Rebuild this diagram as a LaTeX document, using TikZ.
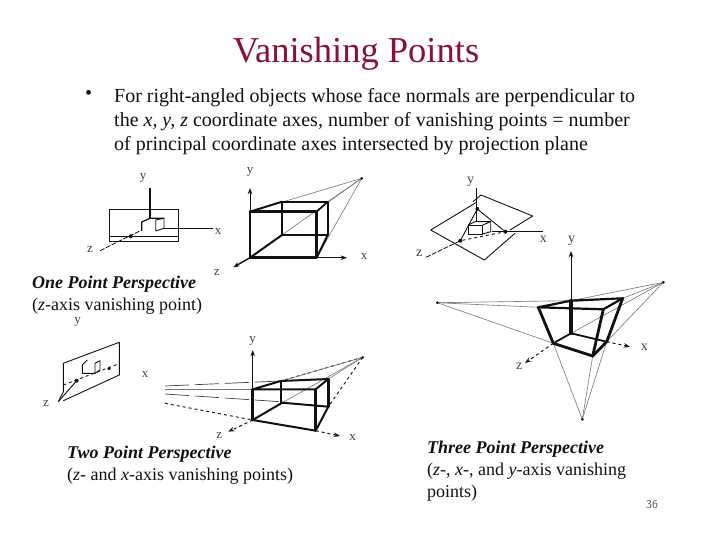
\documentclass[tikz,border=0pt]{standalone}
\usepackage{fontspec}
\setmainfont{Liberation Serif}
\usepackage{tikz}
\usetikzlibrary{arrows.meta,calc,positioning}
\definecolor{ink}{HTML}{111111}
\definecolor{maroon}{HTML}{8A1038}
\definecolor{ray}{HTML}{77776A}
\begin{document}
\begin{tikzpicture}[x=1pt,y=-1pt,
  heading/.style={anchor=base,text=maroon,font=\fontsize{36.5}{38}\selectfont,inner sep=0pt},
  bodytext/.style={anchor=base west,text=ink,font=\fontsize{20}{24}\selectfont,inner sep=0pt,align=left},
  caption/.style={anchor=north west,text=ink,font=\fontsize{18}{22}\selectfont,inner sep=0pt,align=left},
  axlabel/.style={text=ink!80,font=\fontsize{13}{13}\selectfont,inner sep=0pt},
  edge/.style={line width=2.8pt,color=ink,line cap=round,line join=round},
  thinedge/.style={line width=0.9pt,color=ink,line join=round},
  axis/.style={line width=1pt,color=ink},
  axarrow/.style={-{Stealth[length=2.2mm,width=1.6mm]},line width=1pt,color=ink},
  dashaxis/.style={line width=0.8pt,color=ink,dashed,dash pattern=on 5pt off 1.5pt},
  rayline/.style={line width=0.6pt,color=ray},
  farline/.style={line width=0.7pt,color=ink!80,dash pattern=on 24pt off 6pt},
  vpdot/.style={circle,fill=ink,inner sep=0pt,minimum size=4pt}]
  \useasboundingbox (0,0) rectangle (720,540);
  \fill[white] (0,0) rectangle (720,540);
  % title and bullet text
  \node[heading] (title) at (356,63) {Vanishing Points};
  \node[bodytext] (bullet) at (85,100) {•};
  \node[bodytext] (line1) at (114,102.5) {For right-angled objects whose face normals are perpendicular to};
  \node[bodytext] (line2) at (114,126.5) {the \textit{x, y, z} coordinate axes, number of vanishing points = number};
  \node[bodytext] (line3) at (114,150.5) {of principal coordinate axes intersected by projection plane};
  % captions
  \node[caption] (cap1) at (32,275.5) {\textbf{\textit{One Point Perspective}}\\(\textit{z}-axis vanishing point)};
  \node[caption] (cap2) at (67,446) {\textbf{\textit{Two Point Perspective}}\\(\textit{z}- and \textit{x}-axis vanishing points)};
  \node[caption] (cap3) at (427,441) {\textbf{\textit{Three Point Perspective}}\\(\textit{z}-, \textit{x}-, and \textit{y}-axis vanishing\\points)};
  \node[anchor=center,text=ink!70,font=\sffamily\fontsize{12}{12}\selectfont,inner sep=0pt] (page) at (652,505) {36};

  % one point, small sketch
  \draw[thinedge] (109.3,209.3) rectangle (178.3,241.7);
  \draw[thinedge] (109.3,236) -- (178.3,236);
  \draw[axis,line width=1.4pt] (150,188.3) -- (150,218.3);
  \draw[axis] (163.3,228.3) -- (213.3,228.3);
  \draw[dashaxis] (100,250.7) -- (141.7,230);
  \node[vpdot] (vpa) at (130.7,236.3) {};
  \draw[thinedge,line width=1.2pt] (141.7,231) -- (141.7,222) -- (150,218.3) -- (164,218.3);
  \draw[thinedge] (155.7,231) -- (155.7,220) -- (164,218.3) -- (164,228.3) -- (155.7,231);
  \node[axlabel] (ya) at (143,178) {y};
  \node[axlabel] (xa) at (218,232) {x};
  \node[axlabel] (za) at (90,250) {z};

  % one point, box
  \coordinate (vpb) at (361.7,178.3);
  \draw[rayline] (vpb) -- (250,211.7);
  \draw[rayline] (vpb) -- (327.7,201.7);
  \draw[rayline] (vpb) -- (282,235);
  \draw[rayline] (vpb) -- (316.7,257.7);
  \node[vpdot,minimum size=3pt] (vpbdot) at (vpb) {};
  \draw[axarrow] (250,211.7) -- (250,188);
  \draw[axarrow] (316.7,257.7) -- (347,257.7);
  \draw[axarrow,line width=1.4pt] (250,257.7) -- (233.3,267.3);
  \draw[edge,line width=1.7pt] (282,201.7) rectangle (327.7,235);
  \draw[edge,line width=1.7pt] (327.7,201.7) -- (316.7,211.7);
  \draw[edge] (250,211.7) rectangle (316.7,257.7);
  \draw[edge,line width=2pt] (250,211.7) -- (282,201.7);
  \draw[edge,line width=2pt] (250,257.7) -- (282,235);
  \draw[edge,line width=2pt] (316.7,257.7) -- (327.7,235);
  \node[axlabel] (yb) at (250,172) {y};
  \node[axlabel] (xb) at (364,257) {x};
  \node[axlabel] (zb) at (216.7,273) {z};

  % two point, small sketch
  \draw[thinedge] (63.3,392) -- (63.3,363.3) -- (119.3,342.3) -- (119.3,375) -- (63.3,400.7);
  \draw[thinedge,dashed] (63.3,385) -- (120,363.3);
  \draw[thinedge] (58.3,401.7) -- (63.3,392);
  \draw[thinedge] (58.3,401.7) -- (76.7,380.7);
  \node[vpdot] (vpc) at (76.7,380.7) {};
  \node[vpdot,minimum size=3.5pt] (vpd) at (109,368.7) {};
  \draw[thinedge] (82.3,373.3) -- (82.3,365) -- (87.3,360);
  \draw[thinedge] (82.3,373.3) -- (95,373.3) -- (95,363.3) -- (100,360.7) -- (100,370) -- (95,373.3);
  \node[axlabel] (yc) at (77.7,322) {y};
  \node[axlabel] (xc) at (145,375) {x};
  \node[axlabel] (zc) at (46,404) {z};

  % two point, box
  \coordinate (vpe) at (362.7,357.3);
  \draw[farline] (165,386) -- (280.7,381);
  \draw[rayline] (165,389.3) -- (252.7,389.3);
  \draw[farline] (165,394) -- (280,401.7);
  \draw[thinedge,dashed] (165,403.3) -- (252.7,420);
  \draw[thinedge,dashed] (vpe) -- (280.7,381);
  \draw[rayline] (vpe) -- (328.3,379);
  \draw[rayline] (vpe) -- (252.7,389.3);
  \draw[rayline] (vpe) -- (282.3,402.7);
  \draw[thinedge,dashed] (vpe) -- (328.3,406.7);
  \node[vpdot,minimum size=3pt] (vpedot) at (vpe) {};
  \draw[axarrow,line width=1.4pt] (252.7,389.3) -- (252.7,350);
  \draw[axarrow,dashed] (315.7,430.7) -- (340,436);
  \draw[axarrow,dashed] (252.7,420) -- (228.3,431.7);
  \draw[edge,line width=2pt] (252.7,389.3) -- (315.7,389.3) -- (328.3,379) -- (280.7,381) -- cycle;
  \draw[edge,line width=2pt] (280.7,381) -- (280.7,402.7);
  \draw[edge,line width=2pt] (282.3,402.7) -- (328.3,406.7);
  \draw[edge,line width=2pt] (252.7,420) -- (282.3,402.7);
  \draw[edge] (252.7,389.3) -- (252.7,420);
  \draw[edge] (315.7,389.3) -- (315.7,430.7);
  \draw[edge] (328.3,379) -- (328.3,406.7);
  \draw[edge,line width=2pt] (252.7,420) -- (315.7,430.7) -- (328.3,406.7);
  \node[axlabel] (ye) at (252.7,341) {y};
  \node[axlabel] (xe) at (352.7,438) {x};
  \node[axlabel] (ze) at (219.3,436) {z};

  % three point, small sketch
  \draw[thinedge] (477,202) -- (430.7,230) -- (484.3,260) -- (515,233.3);
  \draw[thinedge] (510,230) -- (532.7,216) -- (481,195);
  \draw[thinedge] (481,195) -- (473,201.7);
  \draw[axis] (476.7,188.3) -- (476.7,221.7);
  \draw[axis] (491.7,231.7) -- (542.7,231.7);
  \draw[dashaxis] (426,257.3) -- (460.3,240.7);
  \node[vpdot] (vpf) at (477.3,209) {};
  \node[vpdot] (vpg) at (505.3,231.7) {};
  \node[vpdot] (vph) at (460.3,240.7) {};
  \draw[thinedge] (vpf) -- (vph);
  \draw[thinedge] (vpf) -- (vpg);
  \draw[thinedge,dashed] (vph) -- (vpg);
  \draw[thinedge] (468.3,225) rectangle (482.7,234);
  \draw[thinedge] (468.3,225) -- (475,221.7) -- (490.7,221.7) -- (482.7,225);
  \draw[thinedge] (490.7,221.7) -- (490.7,231.7) -- (482.7,234);
  \node[axlabel,font=\fontsize{14}{14}\selectfont] (yf) at (470.7,182) {y};
  \node[axlabel,font=\fontsize{14}{14}\selectfont] (xf) at (543.3,239) {x};
  \node[axlabel,font=\fontsize{14}{14}\selectfont] (zf) at (419.3,253) {z};

  % three point, box
  \coordinate (vpi) at (437.3,302.7);
  \coordinate (vpj) at (663.3,282.3);
  \coordinate (vpk) at (582.3,419.3);
  \foreach \target in {(571,300.7),(538.3,307.3),(553.3,343.3)}
    \draw[rayline] (vpi) -- \target;
  \foreach \target in {(571,300.7),(622.7,298.3),(571,333.3),(606.7,341.7)}
    \draw[rayline] (vpj) -- \target;
  \foreach \target in {(553.3,343.3),(592.7,356),(606.7,341.7)}
    \draw[rayline] (vpk) -- \target;
  \node[vpdot,minimum size=3pt] (vpidot) at (vpi) {};
  \node[vpdot,minimum size=3pt] (vpjdot) at (vpj) {};
  \node[vpdot,minimum size=3pt] (vpkdot) at (vpk) {};
  \draw[axarrow] (571,300) -- (571,251);
  \draw[axarrow,dashed] (606.7,341.7) -- (630,346.7);
  \draw[axarrow,dashed] (553.3,343.3) -- (525,363);
  \draw[edge,line width=2.2pt] (538.3,307.3) -- (603.3,309.3) -- (622.7,298.3) -- (571,300.7) -- cycle;
  \draw[edge] (538.3,307.3) -- (553.3,343.3);
  \draw[edge] (603.3,309.3) -- (592.7,356);
  \draw[edge] (622.7,298.3) -- (606.7,341.7);
  \draw[edge,line width=3.6pt] (571,300.7) -- (571,333.3);
  \draw[edge,line width=1.8pt] (553.3,343.3) -- (571,333.3) -- (606.7,341.7);
  \draw[edge] (553.3,343.3) -- (592.7,356) -- (606.7,341.7);
  \node[axlabel,font=\fontsize{14}{14}\selectfont] (yi) at (571.7,241) {y};
  \node[axlabel,font=\fontsize{14}{14}\selectfont] (xi) at (644.3,347) {x};
  \node[axlabel,font=\fontsize{14}{14}\selectfont] (zi) at (519.3,366) {z};
\end{tikzpicture}
\end{document}
